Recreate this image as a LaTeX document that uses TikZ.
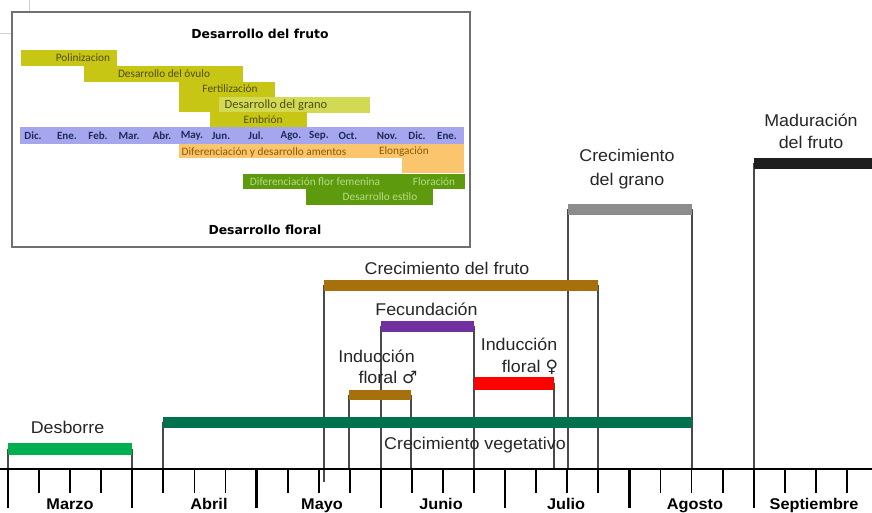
\documentclass[tikz,border=0pt]{standalone}
\usepackage{fontspec}
\setmainfont{Liberation Sans}
\newfontfamily\arialfont[FakeStretch=1.05]{Liberation Sans}
\newfontfamily\calfont{Carlito}
\newfontfamily\djfont{DejaVu Sans}
\definecolor{txtgray}{HTML}{262626}
\definecolor{vgray}{HTML}{4A4A4A}
\definecolor{desb}{HTML}{00B050}
\definecolor{veget}{HTML}{00704E}
\definecolor{brownbar}{HTML}{A6700C}
\definecolor{purplebar}{HTML}{7030A0}
\definecolor{redbar}{HTML}{FF0000}
\definecolor{graybar}{HTML}{8C8C8C}
\definecolor{darkbar}{HTML}{1E1E1E}
\definecolor{boxgray}{HTML}{707070}
\definecolor{olive}{HTML}{C8C614}
\definecolor{oliveL}{HTML}{D2DA55}
\definecolor{olivetxt}{HTML}{4F4C10}
\definecolor{lav}{HTML}{A6A6EE}
\definecolor{navy}{HTML}{1C2A5C}
\definecolor{orng}{HTML}{FBC56E}
\definecolor{orngtxt}{HTML}{8B5A00}
\definecolor{grn}{HTML}{5E9A0E}
\definecolor{grntxt}{HTML}{B6DC86}
\begin{document}
\begin{tikzpicture}[x=1pt,y=-1pt,
  lbl/.style={font=\arialfont\fontsize{17}{20}\selectfont,inner sep=0pt,anchor=base,text=txtgray},
  mon/.style={font=\arialfont\bfseries\fontsize{15.5}{18}\selectfont,inner sep=0pt,anchor=base,text=black},
  vln/.style={draw=vgray,line width=1.2pt},
  stick/.style={draw=black,line width=1.8pt},
  ltick/.style={draw=black,line width=2.2pt},
  ins/.style={font=\calfont\fontsize{11.3}{13}\selectfont,inner sep=0pt},
  insm/.style={font=\calfont\bfseries\fontsize{11}{13}\selectfont,inner sep=0pt,text=navy},
  inst/.style={font=\djfont\bfseries\fontsize{12.4}{14}\selectfont,inner sep=0pt,text=black},
]
\useasboundingbox (0,0) rectangle (872,513);
\clip (0,0) rectangle (872,513);
\fill[white] (0,0) rectangle (872,513);

% faint marks top-left
\draw[black!18,line width=0.6pt] (29,0) -- (29,12);
\draw[black!18,line width=0.6pt] (0,33) -- (11,33);

% ---------- inset ----------
\draw[draw=boxgray,line width=1.5pt,fill=white] (12,12) rectangle (470,247);
\node[inst] (t1) at (260,34) {Desarrollo del fruto};
\fill[olive] (21,50) rectangle (117,66);
\fill[olive] (84,66) rectangle (243,82);
\fill[olive] (179,82) rectangle (275,112);
\fill[oliveL] (219,97) rectangle (370,113);
\fill[olive] (210,112) rectangle (307,127);
\node[ins,text=olivetxt] (p1) at (83,58) {Polinizacion};
\node[ins,text=olivetxt] (p2) at (164,74) {Desarrollo del óvulo};
\node[ins,text=olivetxt] (p3) at (230,89) {Fertilización};
\node[ins,text=olivetxt,font=\calfont\fontsize{12.5}{14}\selectfont] (p4) at (276,105) {Desarrollo del grano};
\node[ins,text=olivetxt] (p5) at (263,120) {Embrión};
\fill[lav] (20,127) rectangle (464,144);
\foreach \mx/\mt [count=\i] in {33/Dic., 67/Ene., 98/Feb., 129/Mar., 162/Abr., 192/May., 221/Jun., 256/Jul., 291/Ago., 319/Sep., 348/Oct., 387/Nov., 417/Dic., 447/Ene.}
  \node[insm] (m\i) at (\mx,136) {\mt};
\fill[orng] (179,144) rectangle (464,158);
\fill[orng] (402,144) rectangle (464,173);
\node[ins,text=orngtxt] (o1) at (264,152) {Diferenciación y desarrollo amentos};
\node[ins,text=orngtxt] (o2) at (404,152) {Elongación};
\fill[grn] (243,174) rectangle (465,189);
\fill[grn] (306,189) rectangle (433,205);
\node[ins,text=grntxt] (g1) at (315,181.5) {Diferenciación flor femenina};
\node[ins,text=grntxt] (g2) at (434,181.5) {Floración};
\node[ins,text=grntxt] (g3) at (380,197) {Desarrollo estilo};
\node[inst] (t2) at (265,230) {Desarrollo floral};

% ---------- main chart ----------
\foreach \xx/\yt/\yb in {8/449/469, 132/449/469, 163/422/469, 692/209/469, 568/209/469, 324/285/482, 598/285/469, 349/395/469, 411/395/469, 381/326/469, 474/326/469, 554/383/469, 754/163/469}
  \draw[vln] (\xx,\yt) -- (\xx,\yb);

\fill[desb] (8,443) rectangle (132,455);
\fill[veget] (163,417) rectangle (692,428);
\fill[brownbar] (349,390) rectangle (411,400);
\fill[purplebar] (381,321) rectangle (474,332);
\fill[redbar] (474,377) rectangle (554,390);
\fill[brownbar] (324,280) rectangle (598,291);
\fill[graybar] (568,204) rectangle (692,215);
\fill[darkbar] (754,158) rectangle (872,169);

\node[lbl] (desborre) at (67.5,433) {Desborre};
\node[lbl] (veg) at (475,449) {Crecimiento vegetativo};
\node[lbl] (fruto) at (447,274) {Crecimiento del fruto};
\node[lbl] (fec) at (426.5,315) {Fecundación};
\node[lbl] (im1) at (376.5,362) {Inducción};
\node[lbl] (im2) at (388,383.5) {floral {\djfont ♂}};
\node[lbl] (if1) at (519,350) {Inducción};
\node[lbl] (if2) at (530,372) {floral {\djfont ♀}};
\node[lbl] (gr1) at (627,162) {Crecimiento};
\node[lbl] (gr2) at (627,185.5) {del grano};
\node[lbl] (md1) at (811,127) {Maduración};
\node[lbl] (md2) at (811,148.5) {del fruto};

% axis and ticks
\draw[line width=2pt] (0,469) -- (872,469);
\foreach \k in {0,...,28}
  \draw[stick] ({8+31.07*\k},469) -- ++(0,24);
\foreach \k in {0,4,...,28}
  \draw[ltick] ({8+31.07*\k},469) -- ++(0,39);

\foreach \lx/\lt [count=\j] in {70/Marzo, 209/Abril, 322/Mayo, 441/Junio, 566/Julio, 695/Agosto, 814/Septiembre}
  \node[mon] (mes\j) at (\lx,509.3) {\lt};
\end{tikzpicture}
\end{document}
